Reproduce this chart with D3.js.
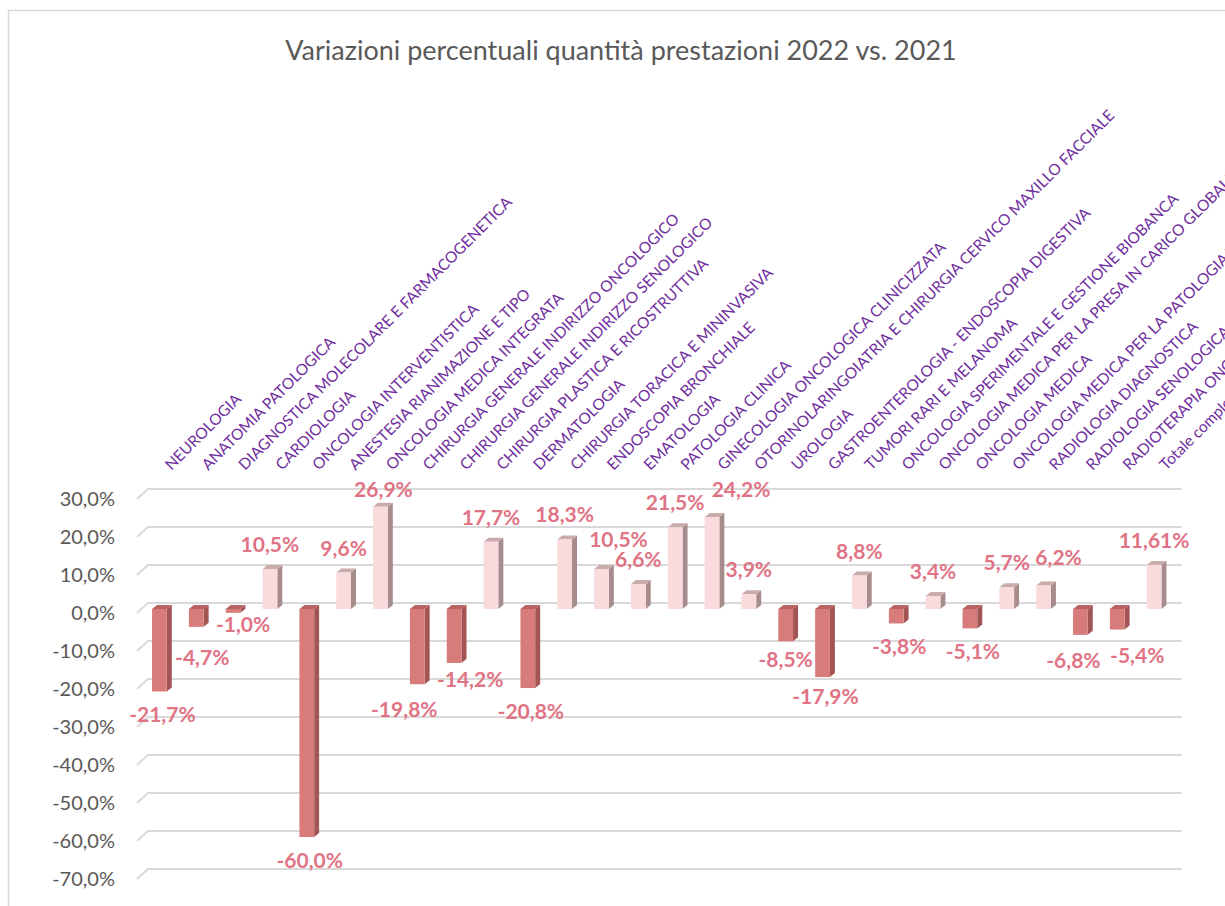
<!DOCTYPE html>
<html>
<head>
<meta charset="utf-8">
<script src="https://cdn.jsdelivr.net/npm/d3@7"></script>
<style>
  body { margin: 0; background: #fff; }
  text { font-family: Lato, "Open Sans", sans-serif; }
</style>
</head>
<body>
<div id="chart"></div>
<script>
const categories = [
    "NEUROLOGIA",
    "ANATOMIA PATOLOGICA",
    "DIAGNOSTICA MOLECOLARE E FARMACOGENETICA",
    "CARDIOLOGIA",
    "ONCOLOGIA INTERVENTISTICA",
    "ANESTESIA RIANIMAZIONE E TIPO",
    "ONCOLOGIA MEDICA INTEGRATA",
    "CHIRURGIA GENERALE INDIRIZZO ONCOLOGICO",
    "CHIRURGIA GENERALE INDIRIZZO SENOLOGICO",
    "CHIRURGIA PLASTICA E RICOSTRUTTIVA",
    "DERMATOLOGIA",
    "CHIRURGIA TORACICA E MININVASIVA",
    "ENDOSCOPIA BRONCHIALE",
    "EMATOLOGIA",
    "PATOLOGIA CLINICA",
    "GINECOLOGIA ONCOLOGICA CLINICIZZATA",
    "OTORINOLARINGOIATRIA E CHIRURGIA CERVICO MAXILLO FACCIALE",
    "UROLOGIA",
    "GASTROENTEROLOGIA - ENDOSCOPIA DIGESTIVA",
    "TUMORI RARI E MELANOMA",
    "ONCOLOGIA SPERIMENTALE E GESTIONE BIOBANCA",
    "ONCOLOGIA MEDICA PER LA PRESA IN CARICO GLOBALE DEL PAZIENTE",
    "ONCOLOGIA MEDICA",
    "ONCOLOGIA MEDICA PER LA PATOLOGIA TORACICA",
    "RADIOLOGIA DIAGNOSTICA",
    "RADIOLOGIA SENOLOGICA",
    "RADIOTERAPIA ONCOLOGICA",
    "Totale complessivo"
]
const variations = [
    -21.7, -4.7, -1.0, 10.5, -60.0, 9.6, 26.9, -19.8, -14.2, 17.7,
    -20.8, 18.3, 10.5, 6.6, 21.5, 24.2, 3.9, -8.5, -17.9, 8.8,
    -3.8, 3.4, -5.1, 5.7, 6.2, -6.8, -5.4, 11.61
]
const yTicks = [30, 20, 10, 0, -10, -20, -30, -40, -50, -60, -70]
const title = "Variazioni percentuali quantità prestazioni 2022 vs. 2021"

// labels that were dragged by hand in the original sheet: [dx, dy]
const labelNudge = {
    "ANATOMIA PATOLOGICA": [3, 7],
    "DIAGNOSTICA MOLECOLARE E FARMACOGENETICA": [7, -12],
    "ONCOLOGIA MEDICA INTEGRATA": [3, 7],
    "CHIRURGIA GENERALE INDIRIZZO ONCOLOGICO": [-16, 2],
    "CHIRURGIA GENERALE INDIRIZZO SENOLOGICO": [13, -7],
    "ENDOSCOPIA BRONCHIALE": [17, -5],
    "GINECOLOGIA ONCOLOGICA CLINICIZZATA": [29, -3],
    "UROLOGIA": [-3, -5],
    "GASTROENTEROLOGIA - ENDOSCOPIA DIGESTIVA": [0, -4],
    "RADIOLOGIA DIAGNOSTICA": [15, -3],
    "RADIOLOGIA SENOLOGICA": [-10, 2],
    "RADIOTERAPIA ONCOLOGICA": [17, 2]
}

const CONFIG = {
    width: 1225,
    height: 906,
    depth: { dx: 5, dy: -4 },
    wall: 6
}

const it = d3.formatLocale({ decimal: ",", thousands: ".", grouping: [3], currency: ["€", ""], minus: "-" })
const fmt1 = it.format(".1f")
const fmt2 = it.format(".2f")
const valueLabel = (v) => (Math.abs(Math.round(v * 10) - v * 10) > 1e-6 ? fmt2(v) : fmt1(v)) + "%"

const data = categories.map((c, i) => ({ name: c, value: variations[i] }))

const svg = d3.select('#chart')
    .append('svg')
    .attr('width', CONFIG.width)
    .attr('height', CONFIG.height)
    .style('background-color', 'white')

// chart area border
svg.append('rect')
    .attr('x', 8.5)
    .attr('y', 10.5)
    .attr('width', 1300)
    .attr('height', 1000)
    .attr('fill', 'none')
    .attr('stroke', '#d9d9d9')
    .attr('stroke-width', 1.5)

svg.append('text')
    .attr('x', 621)
    .attr('y', 60)
    .attr('text-anchor', 'middle')
    .attr('font-size', '27px')
    .attr('fill', '#595959')
    .text(title)

const x = d3.scaleBand()
    .domain(categories)
    .range([141, 1172.5])
    .paddingInner(0.6)
    .paddingOuter(0.3)

const y = d3.scaleLinear()
    .domain([-70, 30])
    .range([875, 495])

// gridlines on the back wall with the little floor stub on the left
const grid = svg.append('g').classed('grid', true)
grid.selectAll('path')
    .data(yTicks)
    .enter()
    .append('path')
    .attr('d', (t) => {
        const yb = y(t) - CONFIG.wall
        return `M137,${yb + 10}L148,${yb}L1182,${yb}`
    })
    .attr('fill', 'none')
    .attr('stroke', '#d9d9d9')
    .attr('stroke-width', 2)

svg.append('g')
    .classed('y-labels', true)
    .selectAll('text')
    .data(yTicks)
    .enter()
    .append('text')
    .attr('x', 115)
    .attr('y', (t) => y(t) + 4)
    .attr('dy', '0.35em')
    .attr('text-anchor', 'end')
    .attr('font-size', '20px')
    .attr('fill', '#595959')
    .text((t) => fmt1(t) + "%")

// 3d bars
const colors = {
    pos: { front: '#f9dadd', side: '#a68c8c', top: '#c9abab' },
    neg: { front: '#d77b7b', side: '#a35555', top: '#b96262' }
}
const { dx, dy } = CONFIG.depth
const w = x.bandwidth()

const bars = svg.append('g')
    .classed('bars', true)
    .selectAll('g')
    .data(data)
    .enter()
    .append('g')

bars.each(function(d) {
    const g = d3.select(this)
    const c = d.value >= 0 ? colors.pos : colors.neg
    const x0 = x(d.name)
    const top = Math.min(y(0), y(d.value))
    const bottom = Math.max(y(0), y(d.value))

    g.append('path')
        .attr('d', `M${x0 + w},${top}L${x0 + w + dx},${top + dy}L${x0 + w + dx},${bottom + dy}L${x0 + w},${bottom}Z`)
        .attr('fill', c.side)
    g.append('path')
        .attr('d', `M${x0},${top}L${x0 + dx},${top + dy}L${x0 + w + dx},${top + dy}L${x0 + w},${top}Z`)
        .attr('fill', c.top)
    g.append('rect')
        .attr('x', x0)
        .attr('y', top)
        .attr('width', w)
        .attr('height', bottom - top)
        .attr('fill', c.front)
})

// data labels
const nudge = (d) => labelNudge[d.name] || [0, 0]
svg.append('g')
    .classed('values', true)
    .selectAll('text')
    .data(data)
    .enter()
    .append('text')
    .attr('x', (d) => x(d.name) + w / 2 + (d.value >= 0 ? 0 : 3) + nudge(d)[0])
    .attr('y', (d) => (d.value >= 0 ? y(d.value) - 17 : y(d.value) + 31) + nudge(d)[1])
    .attr('text-anchor', 'middle')
    .attr('font-size', '21px')
    .attr('font-weight', 'bold')
    .attr('fill', '#e07384')
    .text((d) => valueLabel(d.value))

// category labels, rotated
svg.append('g')
    .classed('categories', true)
    .selectAll('text')
    .data(data)
    .enter()
    .append('text')
    .attr('transform', (d) => `translate(${x(d.name) + w / 2 + 12}, 471) rotate(-45)`)
    .attr('font-size', '15.5px')
    .attr('fill', '#7030a0')
    .text((d) => d.name)
</script>
</body>
</html>
